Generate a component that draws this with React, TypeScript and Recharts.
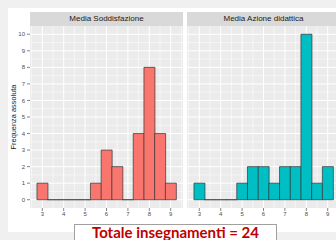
import { BarChart, Bar, XAxis, YAxis, CartesianGrid } from "recharts";

// bin centres (width 0.5) and counts per panel
const binCenters = [3, 3.5, 4, 4.5, 5, 5.5, 6, 6.5, 7, 7.5, 8, 8.5, 9];
const soddisfazione = [1, 0, 0, 0, 0, 1, 3, 2, 0, 4, 8, 4, 1];
const azioneDidattica = [1, 0, 0, 0, 1, 2, 2, 1, 2, 2, 10, 1, 2];

const xTicks = [3, 4, 5, 6, 7, 8, 9];
const xMinor = [2.5, 3.5, 4.5, 5.5, 6.5, 7.5, 8.5, 9.5];
const yTicks = [0, 1, 2, 3, 4, 5, 6, 7, 8, 9, 10];
const yMinor = [0.5, 1.5, 2.5, 3.5, 4.5, 5.5, 6.5, 7.5, 8.5, 9.5];

const panelTitles = ["Media Soddisfazione", "Media Azione didattica"];
const totalLabel = "Totale insegnamenti = 24";

const FONT = "'Liberation Sans', Arial, sans-serif";

const BinShape = (props: any) => {
  const { x, y, width, height, fill } = props;
  if (x == null || y == null) return null;
  return (
    <path
      d={`M${x},${y}h${width}v${height}h${-width}Z`}
      fill={fill}
      stroke="#333333"
      strokeWidth={0.7}
    />
  );
};

const Panel = ({
  values,
  color,
  showY,
}: {
  values: number[];
  color: string;
  showY: boolean;
}) => {
  const data = binCenters.map((x, i) => ({ x, count: values[i] }));
  const yWidth = showY ? 30 : 0;
  return (
    <BarChart
      width={153 + yWidth}
      height={240}
      data={data}
      margin={{ top: 26, right: 0, bottom: 18, left: 0 }}
      barCategoryGap={0}
    >
      <CartesianGrid
        fill="#EBEBEB"
        stroke="#ffffff"
        strokeWidth={0.5}
        horizontalValues={yMinor}
        verticalValues={xMinor}
      />
      <CartesianGrid
        stroke="#ffffff"
        strokeWidth={1}
        horizontalValues={yTicks}
        verticalValues={xTicks}
      />
      <XAxis
        dataKey="x"
        type="number"
        domain={[2.425, 9.575]}
        ticks={xTicks}
        interval={0}
        height={14}
        axisLine={false}
        tickSize={3}
        tickMargin={1}
        tickLine={{ stroke: "#333333", strokeWidth: 0.6 }}
        tick={{ fontSize: 6, fill: "#4D4D4D", fontFamily: FONT }}
      />
      <YAxis
        hide={!showY}
        width={yWidth}
        domain={[-0.5, 10.5]}
        ticks={yTicks}
        interval={0}
        axisLine={false}
        tickSize={3}
        tickMargin={2}
        tickLine={{ stroke: "#333333", strokeWidth: 0.6 }}
        tick={{ fontSize: 6, fill: "#4D4D4D", fontFamily: FONT }}
      />
      <Bar
        dataKey="count"
        fill={color}
        shape={BinShape}
        isAnimationActive={false}
      />
    </BarChart>
  );
};

const stripStyle = (left: number): React.CSSProperties => ({
  position: "absolute",
  left,
  top: 12,
  width: 153,
  height: 14,
  background: "#D9D9D9",
  color: "#1A1A1A",
  fontFamily: FONT,
  fontSize: 8,
  lineHeight: "14px",
  textAlign: "center",
  whiteSpace: "nowrap",
});

export default function App() {
  return (
    <div
      style={{
        position: "absolute",
        left: 0,
        top: 0,
        width: 336,
        height: 240,
        overflow: "hidden",
        background: "#F0F0F0",
      }}
    >
      <div
        style={{
          position: "absolute",
          left: 8,
          top: 8,
          width: 340,
          height: 224,
          background: "#ffffff",
        }}
      />
      <div style={{ position: "absolute", left: 0, top: 0 }}>
        <Panel values={soddisfazione} color="#F8766D" showY={true} />
      </div>
      <div style={{ position: "absolute", left: 187, top: 0 }}>
        <Panel values={azioneDidattica} color="#00BFC4" showY={false} />
      </div>
      <div style={stripStyle(30)}>{panelTitles[0]}</div>
      <div style={stripStyle(187)}>{panelTitles[1]}</div>
      <div
        style={{
          position: "absolute",
          left: 13,
          top: 117,
          transform: "translate(-50%, -50%) rotate(-90deg)",
          fontFamily: FONT,
          fontSize: 7.4,
          color: "#1A1A1A",
          whiteSpace: "nowrap",
        }}
      >
        Frequenza assoluta
      </div>
      <div
        style={{
          position: "absolute",
          left: 74,
          top: 224,
          width: 201,
          height: 24,
          background: "#ffffff",
          border: "1px solid #A0A0A0",
          fontFamily: "Lato, sans-serif",
          fontWeight: 700,
          fontSize: 15,
          lineHeight: "15px",
          color: "#C00000",
          textAlign: "center",
          whiteSpace: "nowrap",
        }}
      >
        {totalLabel}
      </div>
    </div>
  );
}
